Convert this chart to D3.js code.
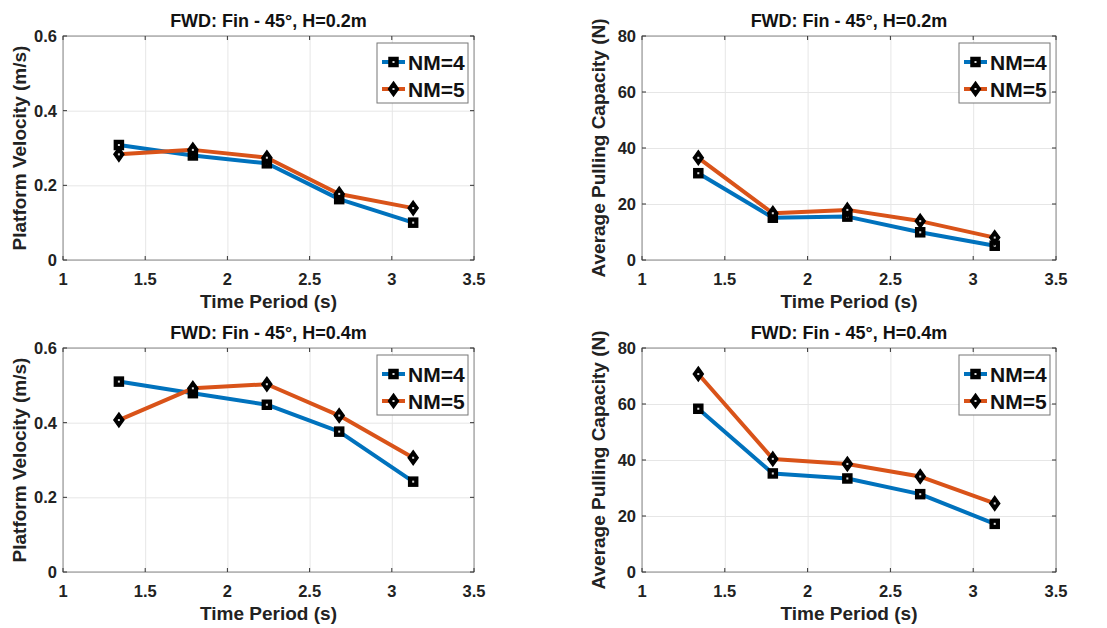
<!DOCTYPE html>
<html>
<head>
<meta charset="utf-8">
<script src="https://cdn.jsdelivr.net/npm/d3@7"></script>
<style>
  body { margin: 0; background: #fff; }
  svg { display: block; font-family: "Liberation Sans", Arial, sans-serif; }
</style>
</head>
<body>
<div id="chart"></div>
<script>
// données
const periods = [1.34, 1.79, 2.24, 2.68, 3.13];
const velH02NM4 = [0.308, 0.28, 0.259, 0.163, 0.1];
const velH02NM5 = [0.283, 0.295, 0.274, 0.177, 0.139];
const pullH02NM4 = [31, 15.1, 15.5, 9.9, 5.1];
const pullH02NM5 = [36.5, 16.7, 17.9, 13.9, 8.0];
const velH04NM4 = [0.51, 0.479, 0.448, 0.376, 0.242];
const velH04NM5 = [0.407, 0.492, 0.503, 0.419, 0.306];
const pullH04NM4 = [58.3, 35.2, 33.4, 27.8, 17.2];
const pullH04NM5 = [70.7, 40.4, 38.6, 34.1, 24.5];

const xTicks = [1, 1.5, 2, 2.5, 3, 3.5];
const velTicks = [0, 0.2, 0.4, 0.6];
const pullTicks = [0, 20, 40, 60, 80];
const seriesNames = ["NM=4", "NM=5"];
const seriesColors = ["#0072BD", "#D95319"];

const W = 1107, H = 628;
const svg = d3.select("#chart").append("svg").attr("width", W).attr("height", H);

const panels = [
  { left: 63, top: 36, right: 474, bottom: 260, title: "FWD: Fin - 45°, H=0.2m",
    ylabel: "Platform Velocity (m/s)", ydom: [0, 0.6], yticks: velTicks, data: [velH02NM4, velH02NM5] },
  { left: 642, top: 36, right: 1056, bottom: 260, title: "FWD: Fin - 45°, H=0.2m",
    ylabel: "Average Pulling Capacity (N)", ydom: [0, 80], yticks: pullTicks, data: [pullH02NM4, pullH02NM5] },
  { left: 63, top: 348, right: 474, bottom: 572, title: "FWD: Fin - 45°, H=0.4m",
    ylabel: "Platform Velocity (m/s)", ydom: [0, 0.6], yticks: velTicks, data: [velH04NM4, velH04NM5] },
  { left: 642, top: 348, right: 1056, bottom: 572, title: "FWD: Fin - 45°, H=0.4m",
    ylabel: "Average Pulling Capacity (N)", ydom: [0, 80], yticks: pullTicks, data: [pullH04NM4, pullH04NM5] }
];

// marqueurs noirs avec un petit point clair au centre
function marker(g, i, x, y) {
  if (i === 0) {
    g.append("rect").attr("x", x - 4.5).attr("y", y - 4.5).attr("width", 9).attr("height", 9)
      .attr("fill", "#000").attr("stroke", "#000").attr("stroke-width", 1.5);
  } else {
    g.append("path").attr("d", `M${x},${y - 7}L${x + 5},${y}L${x},${y + 7}L${x - 5},${y}Z`)
      .attr("fill", "#000").attr("stroke", "#000").attr("stroke-width", 1.5);
  }
  g.append("rect").attr("x", x - 1).attr("y", y - 1).attr("width", 2).attr("height", 2).attr("fill", "#ddd");
}

panels.forEach(p => {
  const x = d3.scaleLinear().domain([1, 3.5]).range([p.left, p.right]);
  const y = d3.scaleLinear().domain(p.ydom).range([p.bottom, p.top]);
  const g = svg.append("g");
  const pw = p.right - p.left, ph = p.bottom - p.top;

  // grille
  g.append("g").attr("transform", `translate(0,${p.bottom})`)
    .call(d3.axisBottom(x).tickValues(xTicks).tickSize(-ph).tickFormat(""))
    .call(a => a.select(".domain").remove())
    .selectAll("line").attr("stroke", "#e6e6e6");
  g.append("g").attr("transform", `translate(${p.left},0)`)
    .call(d3.axisLeft(y).tickValues(p.yticks).tickSize(-pw).tickFormat(""))
    .call(a => a.select(".domain").remove())
    .selectAll("line").attr("stroke", "#e6e6e6");

  // cadre
  g.append("rect").attr("x", p.left).attr("y", p.top).attr("width", pw).attr("height", ph)
    .attr("fill", "none").attr("stroke", "#888").attr("stroke-width", 1);

  // petites graduations vers l'intérieur
  xTicks.forEach(t => {
    g.append("line").attr("x1", x(t)).attr("x2", x(t)).attr("y1", p.bottom).attr("y2", p.bottom - 4).attr("stroke", "#333");
    g.append("line").attr("x1", x(t)).attr("x2", x(t)).attr("y1", p.top).attr("y2", p.top + 4).attr("stroke", "#333");
  });
  p.yticks.forEach(t => {
    g.append("line").attr("x1", p.left).attr("x2", p.left + 4).attr("y1", y(t)).attr("y2", y(t)).attr("stroke", "#333");
    g.append("line").attr("x1", p.right).attr("x2", p.right - 4).attr("y1", y(t)).attr("y2", y(t)).attr("stroke", "#333");
  });

  // libellés des graduations
  g.selectAll(".xt").data(xTicks).enter().append("text")
    .attr("x", d => x(d)).attr("y", p.bottom + 25).attr("text-anchor", "middle")
    .attr("font-size", "16.5px").attr("font-weight", "bold").attr("fill", "#222")
    .text(d => d3.format("~g")(d));
  g.selectAll(".yt").data(p.yticks).enter().append("text")
    .attr("x", p.left - 6).attr("y", d => y(d) + 6).attr("text-anchor", "end")
    .attr("font-size", "16.5px").attr("font-weight", "bold").attr("fill", "#222")
    .text(d => d3.format("~g")(d));

  // titres
  g.append("text").attr("x", (p.left + p.right) / 2).attr("y", p.top - 9).attr("text-anchor", "middle")
    .attr("font-size", "18px").attr("font-weight", "bold").attr("fill", "#111").text(p.title);
  g.append("text").attr("x", (p.left + p.right) / 2).attr("y", p.bottom + 48).attr("text-anchor", "middle")
    .attr("font-size", "19px").attr("font-weight", "bold").attr("fill", "#222").text("Time Period (s)");
  g.append("text").attr("transform", `translate(${p.left - 37},${(p.top + p.bottom) / 2}) rotate(-90)`)
    .attr("text-anchor", "middle")
    .attr("font-size", "19px").attr("font-weight", "bold").attr("fill", "#222").text(p.ylabel);

  // courbes
  const line = d3.line().x((d, i) => x(periods[i])).y(d => y(d));
  p.data.forEach((vals, si) => {
    g.append("path").datum(vals).attr("d", line).attr("fill", "none")
      .attr("stroke", seriesColors[si]).attr("stroke-width", 4).attr("stroke-linejoin", "round");
  });
  p.data.forEach((vals, si) => {
    vals.forEach((v, i) => marker(g, si, x(periods[i]), y(v)));
  });

  // légende
  const lx = p.right - 97, ly = p.top + 7;
  g.append("rect").attr("x", lx).attr("y", ly).attr("width", 91).attr("height", 60)
    .attr("fill", "#fff").attr("stroke", "#777").attr("stroke-width", 1);
  seriesNames.forEach((name, si) => {
    const yy = ly + 19 + si * 27;
    g.append("line").attr("x1", lx + 5).attr("x2", lx + 28).attr("y1", yy).attr("y2", yy)
      .attr("stroke", seriesColors[si]).attr("stroke-width", 4);
    marker(g, si, lx + 16.5, yy);
    g.append("text").attr("x", lx + 31).attr("y", yy + 7.5)
      .attr("font-size", "21px").attr("font-weight", "bold").attr("fill", "#111").text(name);
  });
});
</script>
</body>
</html>
